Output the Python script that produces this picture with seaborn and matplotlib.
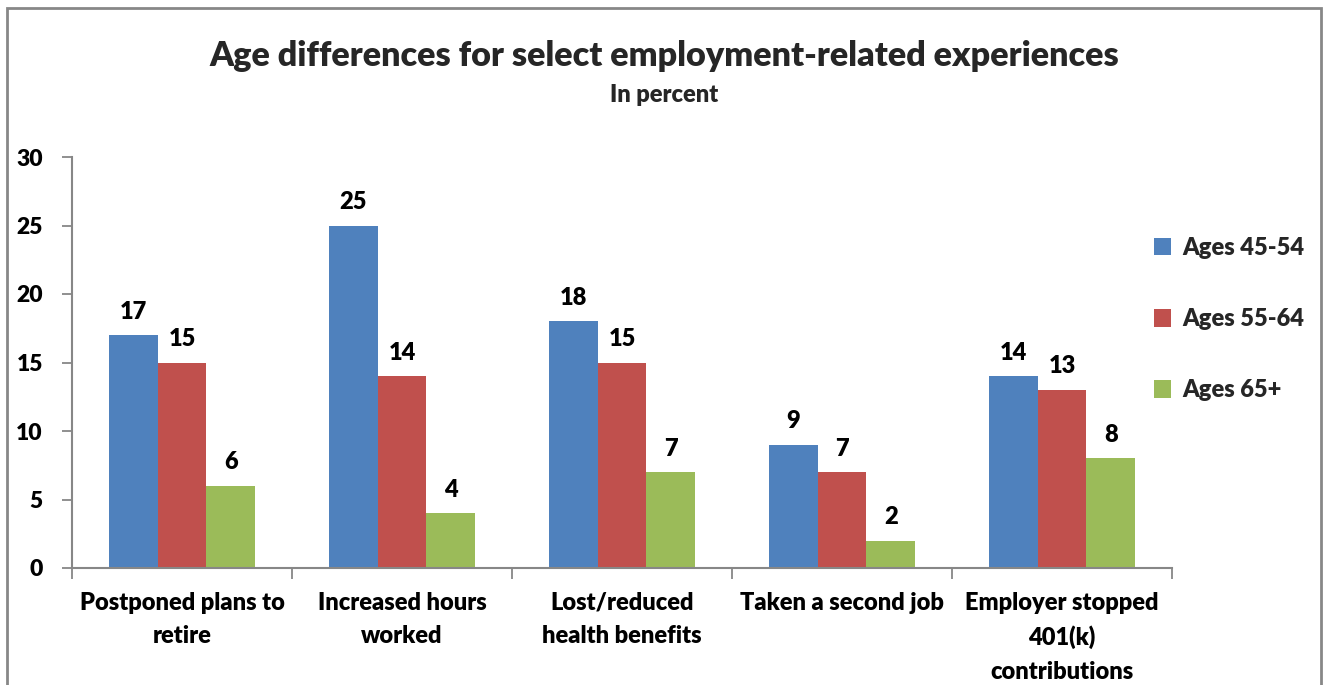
import numpy as np
import pandas as pd
import matplotlib
matplotlib.use('Agg')
import matplotlib.pyplot as plt
import seaborn as sns
from matplotlib.patches import Rectangle
from matplotlib.ticker import FixedLocator

# ── Data ─────────────────────────────────────────────────────────────────────
categories = ['Postponed plans to\nretire', 'Increased hours\nworked',
              'Lost/reduced\nhealth benefits', 'Taken a second job',
              'Employer stopped\n401(k)\ncontributions']
series     = ['Ages 45-54', 'Ages 55-64', 'Ages 65+']
ages_45_54 = [17, 25, 18, 9, 14]
ages_55_64 = [15, 14, 15, 7, 13]
ages_65    = [6, 4, 7, 2, 8]
y_ticks    = [0, 5, 10, 15, 20, 25, 30]

COLORS = ['#4F81BD', '#C0504D', '#9BBB59']
GRAY   = '#878787'
WEIGHT = 'heavy'

df = pd.DataFrame({
    'category': categories * 3,
    'group': [s for s in series for _ in categories],
    'value': ages_45_54 + ages_55_64 + ages_65,
})

sns.set_theme(style='white')
plt.rcParams['font.family'] = ['Lato', 'DejaVu Sans']
plt.rcParams['font.weight'] = WEIGHT

fig = plt.figure(figsize=(13.25, 6.85), dpi=100)
ax = fig.add_axes([72 / 1325, 1 - 568 / 685, 1100 / 1325, 411 / 685])

sns.barplot(data=df, x='category', y='value', hue='group', palette=COLORS,
            width=0.668, gap=0, saturation=1, ax=ax, errorbar=None,
            linewidth=0)

for cont in ax.containers:
    ax.bar_label(cont, fmt='%d', padding=9, fontsize=17, fontweight=WEIGHT,
                 color='black')

ax.set_ylim(0, 30)
ax.set_xlim(-0.5, len(categories) - 0.5)
ax.set_yticks(y_ticks)
ax.set_xlabel('')
ax.set_ylabel('')

# category boundaries get the tick marks, labels sit at the centres
ax.xaxis.set_minor_locator(FixedLocator(np.arange(-0.5, len(categories), 1.0)))
ax.tick_params(axis='x', which='major', length=0, pad=17, labelsize=17)
ax.tick_params(axis='x', which='minor', length=8, width=1.3, color=GRAY,
               bottom=True)
ax.tick_params(axis='y', which='major', length=7, width=1.3, color=GRAY,
               left=True, pad=14, labelsize=16.5)
for lbl in ax.get_xticklabels() + ax.get_yticklabels():
    lbl.set_fontweight(WEIGHT)
    lbl.set_color('black')
for lbl in ax.get_xticklabels():
    lbl.set_linespacing(1.62)
    lbl.set_va('top')

for side in ['top', 'right']:
    ax.spines[side].set_visible(False)
for side in ['left', 'bottom']:
    ax.spines[side].set_color(GRAY)
    ax.spines[side].set_linewidth(1.5)

leg = ax.legend(loc='upper left', bbox_to_anchor=(0.964, 0.857), frameon=False,
                prop={'size': 17, 'weight': WEIGHT}, labelspacing=2.08,
                handlelength=0.75, handleheight=0.75, handletextpad=0.45)

fig.text(0.501, 0.918, 'Age differences for select employment-related experiences',
         ha='center', va='center', fontsize=24.6, fontweight=WEIGHT)
fig.text(0.501, 0.862, 'In percent', ha='center', va='center', fontsize=17,
         fontweight=WEIGHT)

# outer chart border (bottom edge runs off the image)
fig.patches.append(Rectangle((7 / 1325, -0.05), 1314 / 1325, 1.05 - 8 / 685,
                             transform=fig.transFigure, fill=False,
                             edgecolor=GRAY, linewidth=2))

fig.savefig('out.png', dpi=100)
